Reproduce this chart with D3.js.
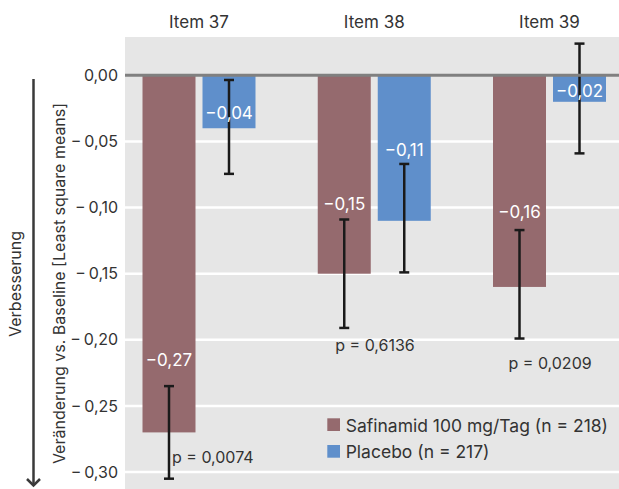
<!DOCTYPE html>
<html>
<head>
<meta charset="utf-8">
<script src="https://cdn.jsdelivr.net/npm/d3@7"></script>
<style>
  html, body { margin: 0; padding: 0; background: #ffffff; }
  svg { display: block; }
  text { font-family: Inter, "Noto Sans", Arial, sans-serif; }
</style>
</head>
<body>
<svg id="chart" width="619" height="489"></svg>
<script>
// ---------------- data ----------------
const categories = ["Item 37", "Item 38", "Item 39"];
const seriesNames = ["Safinamid 100 mg/Tag (n = 218)", "Placebo (n = 217)"];
const safinamidValues = [-0.27, -0.15, -0.16];
const placeboValues   = [-0.04, -0.11, -0.02];
const safinamidLower  = [-0.305, -0.191, -0.199];
const safinamidUpper  = [-0.235, -0.109, -0.117];
const placeboLower    = [-0.0745, -0.149, -0.059];
const placeboUpper    = [-0.0035, -0.067, 0.024];
const safinamidLabels = ["\u22120,27", "\u22120,15", "\u22120,16"];
const placeboLabels   = ["\u22120,04", "\u22120,11", "\u22120,02"];
const pValueLabels    = ["p = 0,0074", "p = 0,6136", "p = 0,0209"];
const tickValues = [0, -0.05, -0.10, -0.15, -0.20, -0.25, -0.30];
const tickLabels = ["0,00", "\u2212\u20090,05", "\u2212\u20090,10", "\u2212\u20090,15", "\u2212\u20090,20", "\u2212\u20090,25", "\u2212\u20090,30"];
const yTitle = "Veränderung vs. Baseline [Least square means]";
const arrowLabel = "Verbesserung";

// ---------------- layout / style ----------------
const colors = ["#956a6e", "#5f8fcb"];
const plot = { left: 125, right: 619, top: 37, bottom: 489 };
// label lift (px above bar end) for value labels, per category [safinamid, placebo]
const valueLabelLift = [[66, 9.5], [63.5, 64.5], [69, 5]];
// p-label offset from lower end of safinamid error bar
const pLabelOffset = [[3, -16], [-9, 23.5], [-11, 30]];

const svg = d3.select("#chart");

const y = d3.scaleLinear().domain([0.029, -0.3128]).range([plot.top, plot.bottom]);
const x0 = d3.scalePoint().domain(categories).range([199, 549.5]);
const x1 = d3.scaleBand().domain([0, 1]).range([-56.5, 56.5]).paddingInner(0.1167).paddingOuter(0);
const color = d3.scaleOrdinal().domain([0, 1]).range(colors);

// background
svg.append("rect")
  .attr("x", plot.left).attr("y", plot.top)
  .attr("width", plot.right - plot.left).attr("height", plot.bottom - plot.top)
  .attr("fill", "#e6e6e6");

// grid lines
svg.append("g").selectAll("line")
  .data(tickValues.filter(d => d !== 0))
  .join("line")
  .attr("x1", plot.left).attr("x2", plot.right)
  .attr("y1", d => y(d)).attr("y2", d => y(d))
  .attr("stroke", "#ffffff").attr("stroke-width", 2.5);

// y axis
const yAxis = d3.axisLeft(y)
  .tickValues(tickValues)
  .tickFormat((d, i) => tickLabels[i])
  .tickSize(0).tickPadding(7);
const yg = svg.append("g").attr("transform", `translate(${plot.left},0)`).call(yAxis);
yg.select(".domain").remove();
yg.selectAll("text")
  .attr("font-family", "Inter, 'Noto Sans', Arial, sans-serif")
  .attr("font-size", 16).attr("fill", "#333333");

// bars
const rows = categories.map((c, i) => ({
  cat: c, idx: i,
  bars: [
    { s: 0, v: safinamidValues[i], lo: safinamidLower[i], hi: safinamidUpper[i], label: safinamidLabels[i], lift: valueLabelLift[i][0] },
    { s: 1, v: placeboValues[i], lo: placeboLower[i], hi: placeboUpper[i], label: placeboLabels[i], lift: valueLabelLift[i][1] }
  ]
}));

const groups = svg.append("g").selectAll("g")
  .data(rows).join("g")
  .attr("transform", d => `translate(${x0(d.cat)},0)`);

groups.selectAll("rect")
  .data(d => d.bars).join("rect")
  .attr("x", d => x1(d.s))
  .attr("width", x1.bandwidth())
  .attr("y", d => y(Math.max(0, d.v)))
  .attr("height", d => Math.abs(y(d.v) - y(0)))
  .attr("fill", d => color(d.s));

// zero line
svg.append("line")
  .attr("x1", plot.left).attr("x2", plot.right)
  .attr("y1", y(0)).attr("y2", y(0))
  .attr("stroke", "#808080").attr("stroke-width", 3);

// error bars
const eb = groups.selectAll("g.eb")
  .data(d => d.bars).join("g").attr("class", "eb")
  .attr("transform", d => `translate(${x1(d.s) + x1.bandwidth() / 2},0)`);
eb.append("line")
  .attr("x1", 0).attr("x2", 0)
  .attr("y1", d => y(d.hi)).attr("y2", d => y(d.lo))
  .attr("stroke", "#1a1a1a").attr("stroke-width", 2.5);
eb.append("line")
  .attr("x1", -5).attr("x2", 5)
  .attr("y1", d => y(d.hi)).attr("y2", d => y(d.hi))
  .attr("stroke", "#1a1a1a").attr("stroke-width", 2.5);
eb.append("line")
  .attr("x1", -5).attr("x2", 5)
  .attr("y1", d => y(d.lo)).attr("y2", d => y(d.lo))
  .attr("stroke", "#1a1a1a").attr("stroke-width", 2.5);

// value labels
groups.selectAll("text.val")
  .data(d => d.bars).join("text").attr("class", "val")
  .attr("x", d => x1(d.s) + x1.bandwidth() / 2)
  .attr("y", d => y(d.v) - d.lift)
  .attr("text-anchor", "middle")
  .attr("font-size", 17)
  .attr("fill", "#ffffff")
  .text(d => d.label);

// p-value labels
groups.append("text")
  .attr("x", d => x1(0) + x1.bandwidth() / 2 + pLabelOffset[d.idx][0])
  .attr("y", d => y(safinamidLower[d.idx]) + pLabelOffset[d.idx][1])
  .attr("font-size", 16)
  .attr("fill", "#333333")
  .text(d => pValueLabels[d.idx]);

// category labels on top
svg.append("g").selectAll("text")
  .data(categories).join("text")
  .attr("x", d => x0(d))
  .attr("y", 28.3)
  .attr("text-anchor", "middle")
  .attr("font-size", 17)
  .attr("fill", "#333333")
  .text(d => d);

// y title
svg.append("text")
  .attr("transform", `translate(65,${(90 + 477) / 2}) rotate(-90)`)
  .attr("text-anchor", "middle")
  .attr("font-size", 16)
  .attr("fill", "#333333")
  .text(yTitle);

// arrow and "Verbesserung"
svg.append("line")
  .attr("x1", 33.5).attr("x2", 33.5)
  .attr("y1", 79).attr("y2", 485)
  .attr("stroke", "#3a3a3a").attr("stroke-width", 2.5);
svg.append("path")
  .attr("d", "M27,479 L33.5,485.5 L40,479")
  .attr("fill", "none")
  .attr("stroke", "#3a3a3a").attr("stroke-width", 2.5);
svg.append("text")
  .attr("transform", `translate(21,284) rotate(-90)`)
  .attr("text-anchor", "middle")
  .attr("font-size", 16)
  .attr("fill", "#333333")
  .text(arrowLabel);

// legend
const legend = svg.append("g").attr("transform", "translate(327.3,418.3)");
const li = legend.selectAll("g").data(seriesNames).join("g")
  .attr("transform", (d, i) => `translate(0,${i * 26.7})`);
li.append("rect").attr("width", 12.7).attr("height", 12.7).attr("fill", (d, i) => colors[i]);
li.append("text").attr("x", 18.4).attr("y", 13.4)
  .attr("font-size", 17.5).attr("fill", "#333333")
  .text(d => d);
</script>
</body>
</html>
